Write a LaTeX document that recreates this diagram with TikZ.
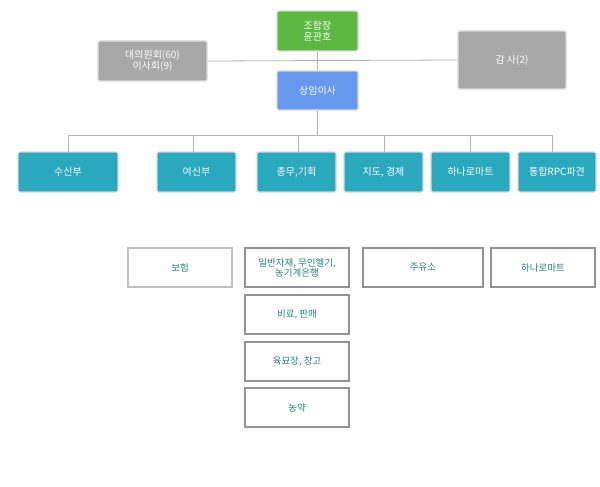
\documentclass[tikz,border=0pt]{standalone}
\usepackage{fontspec}
\setmainfont{Noto Sans CJK KR}
\begin{document}
\begin{tikzpicture}[x=1pt,y=-1pt,
 bx/.style={draw=white!85!black,line width=1.2pt,rounded corners=2pt,text=white,font=\fontsize{10}{11}\selectfont,align=center,inner sep=0pt},
 wb/.style={draw=gray!85,line width=1.3pt,fill=white,text=teal!70!gray,font=\fontsize{9.5}{10}\selectfont,align=center,inner sep=0pt},
 ln/.style={draw=gray!60,line width=0.8pt}]
\useasboundingbox (0,0) rectangle (600,487);
\definecolor{gr}{HTML}{5CB840}\definecolor{bl}{HTML}{6699EE}\definecolor{gy}{HTML}{A8A8A8}\definecolor{tl}{HTML}{2AA8BD}
\newcommand{\bxx}[6]{\node[bx,fill=#6,minimum width=#3pt,minimum height=#4pt] (#5) at (#1,#2) {};}
\node[bx,fill=gr,minimum width=81pt,minimum height=40pt] (ceo) at (317.5,31) {조합장\\윤관호};
\node[bx,fill=gy,minimum width=109pt,minimum height=40pt] (dae) at (152.5,61) {대의원회(60)\\이사회(9)};
\node[bx,fill=gy,minimum width=108pt,minimum height=58pt] (gam) at (512,60) {감 사(2)};
\node[bx,fill=bl,minimum width=81pt,minimum height=39pt] (sang) at (317.5,90.5) {상임이사};
\foreach \n/\x/\w/\t in {a/68/100/수신부,b/196.5/79/여신부,c/296.5/79/{총무,기획},d/383.5/79/{지도, 경제},e/470.5/79/하나로마트,f/557/78/통합RPC파견}
  \node[bx,fill=tl,minimum width=\w pt,minimum height=40pt] (\n) at (\x,172) {\t};
\draw[ln] (dae.east) -- (gam.west);
\draw[ln] (ceo.south) -- (sang.north);
\coordinate (j) at (317.5,135);
\draw[ln] (sang.south) -- (j);
\draw[ln] (68,135) -- (552,135);
\foreach \n/\x in {a/68,b/193,c/298,d/384,e/470,f/552} \draw[ln] (\x,135) -- (\x,152);
\node[wb,draw=gray!50,minimum width=104pt,minimum height=39pt] (p1) at (180,267.5) {보험};
\node[wb,minimum width=104pt,minimum height=39pt] (p2) at (297,267.5) {일반자재, 무인헬기,\\농기계은행};
\node[wb,minimum width=104pt,minimum height=39pt] (p3) at (297,314.5) {비료, 판매};
\node[wb,minimum width=104pt,minimum height=39pt] (p4) at (297,361.5) {육묘장, 창고};
\node[wb,minimum width=104pt,minimum height=39pt] (p5) at (297,407.5) {농약};
\node[wb,minimum width=120pt,minimum height=39pt] (p6) at (423,267.5) {주유소};
\node[wb,minimum width=104pt,minimum height=39pt] (p7) at (543,267.5) {하나로마트};
\end{tikzpicture}
\end{document}
